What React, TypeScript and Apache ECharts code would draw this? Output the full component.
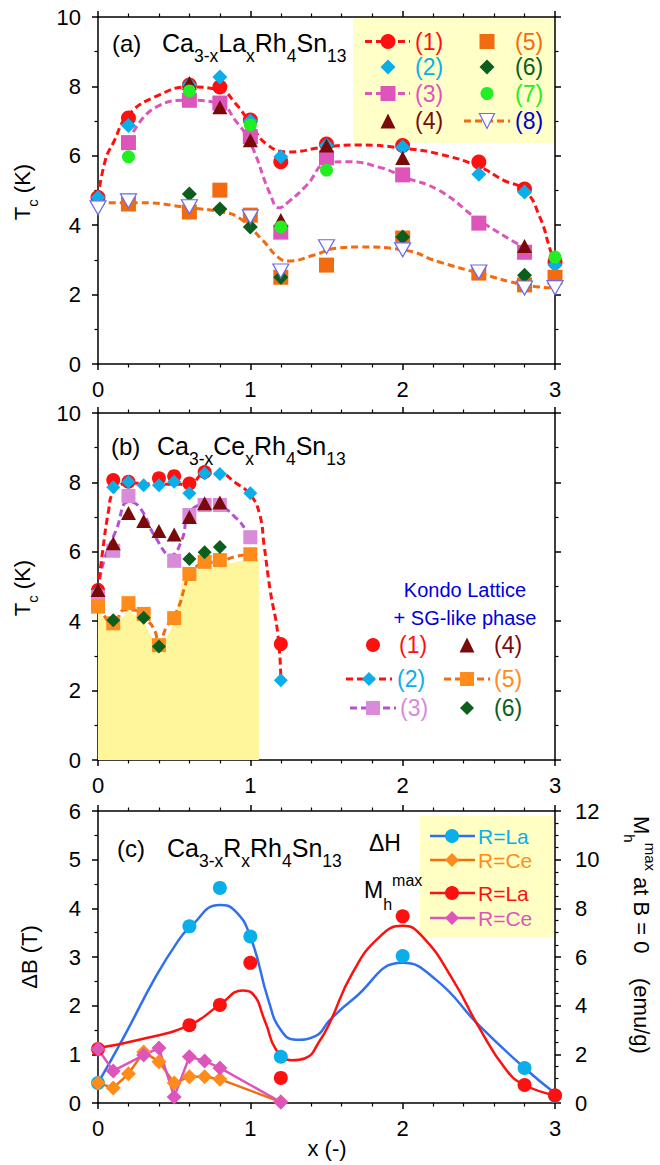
import React, { useEffect, useRef } from "react";
import * as echarts from "echarts";

const FONT = "'Liberation Sans', Arial, Helvetica, sans-serif";

// ---------------- Panel (a): Ca3-xLaxRh4Sn13 ----------------
const A1_X = [0, 0.2, 0.6, 0.8, 1.0, 1.2, 1.5, 2.0, 2.5, 2.8, 3.0];
const A1_T = [4.8, 7.09, 8.04, 7.98, 7.03, 5.83, 6.34, 6.3, 5.82, 5.04, 2.94];
const A2_X = [0, 0.2, 0.6, 0.8, 1.0, 1.2, 1.5, 2.0, 2.5, 2.8, 3.0];
const A2_T = [4.8, 6.87, 8.05, 8.27, 7.0, 5.97, 6.3, 6.25, 5.47, 4.96, 2.85];
const A3_X = [0.2, 0.6, 0.8, 1.0, 1.2, 1.5, 2.0, 2.5, 2.8];
const A3_T = [6.38, 7.6, 7.52, 6.55, 3.8, 5.94, 5.45, 4.06, 3.22];
const A4_X = [0.6, 0.8, 1.0, 1.2, 1.5, 2.0, 2.8];
const A4_T = [8.1, 7.4, 6.45, 4.15, 6.3, 5.94, 3.4];
const A5_X = [0.2, 0.6, 0.8, 1.0, 1.2, 1.5, 2.0, 2.5, 2.8, 3.0];
const A5_T = [4.61, 4.38, 5.01, 4.29, 2.5, 2.85, 3.63, 2.62, 2.28, 2.5];
const A6_X = [0.6, 0.8, 1.0, 1.2, 2.0, 2.8];
const A6_T = [4.9, 4.47, 3.95, 2.5, 3.66, 2.56];
const A7_X = [0.2, 0.6, 1.0, 1.2, 1.5, 3.0];
const A7_T = [5.97, 7.87, 6.89, 3.95, 5.59, 3.08];
const A8_X = [0, 0.2, 0.6, 1.0, 1.2, 1.5, 2.0, 2.5, 2.8, 3.0];
const A8_T = [4.5, 4.7, 4.53, 4.24, 2.68, 3.38, 3.29, 2.65, 2.19, 2.2];

// guide curves
const GA1_X = [0, 0.05, 0.1, 0.2, 0.4, 0.6, 0.8, 0.9, 1.0, 1.1, 1.25, 1.5, 1.72, 2.0, 2.24, 2.5, 2.66, 2.8, 2.9, 2.97, 3.0];
const GA1_T = [4.8, 5.9, 6.37, 7.18, 7.75, 7.98, 7.9, 7.52, 6.94, 6.36, 6.11, 6.26, 6.31, 6.22, 6.05, 5.69, 5.3, 5.01, 4.24, 3.28, 2.95];
const GA3_X = [0.2, 0.38, 0.6, 0.8, 0.9, 1.0, 1.13, 1.19, 1.25, 1.37, 1.5, 1.63, 1.87, 2.0, 2.24, 2.5, 2.8];
const GA3_T = [6.4, 7.4, 7.6, 7.5, 7.03, 6.37, 4.9, 4.5, 4.67, 5.15, 5.78, 5.83, 5.64, 5.4, 5.0, 4.15, 3.35];
const GA8_X = [0, 0.08, 0.28, 0.6, 0.8, 0.93, 1.08, 1.19, 1.25, 1.42, 1.57, 1.72, 2.0, 2.24, 2.5, 2.8, 3.0];
const GA8_T = [4.58, 4.65, 4.65, 4.5, 4.39, 4.2, 3.57, 3.05, 2.97, 3.14, 3.34, 3.37, 3.29, 2.94, 2.62, 2.28, 2.19];

// ---------------- Panel (b): Ca3-xCexRh4Sn13 ----------------
const B1_X = [0, 0.1, 0.2, 0.4, 0.5, 0.6, 0.7, 1.2];
const B1_T = [4.9, 8.07, 8.02, 8.12, 8.18, 7.97, 8.3, 3.34];
const B2_X = [0, 0.1, 0.2, 0.3, 0.4, 0.5, 0.6, 0.7, 0.8, 1.0, 1.2];
const B2_T = [4.85, 7.86, 8.02, 7.92, 7.92, 8.02, 7.69, 8.26, 8.24, 7.69, 2.3];
const B3_X = [0, 0.1, 0.2, 0.5, 0.6, 0.7, 0.8, 1.0];
const B3_T = [4.7, 6.03, 7.61, 5.74, 7.06, 7.35, 7.35, 6.42];
const B4_X = [0, 0.1, 0.2, 0.3, 0.4, 0.5, 0.6, 0.7, 0.8];
const B4_T = [4.9, 6.25, 7.12, 6.89, 6.6, 6.5, 7.0, 7.4, 7.42];
const B5_X = [0, 0.1, 0.2, 0.3, 0.4, 0.5, 0.6, 0.7, 0.8, 1.0];
const B5_T = [4.42, 3.94, 4.52, 4.21, 3.31, 4.09, 5.36, 5.71, 5.76, 5.93];
const B6_X = [0.1, 0.3, 0.4, 0.6, 0.7, 0.8];
const B6_T = [4.03, 4.1, 3.27, 5.79, 5.99, 6.14];

const GB2_X = [0, 0.03, 0.07, 0.1, 0.2, 0.4, 0.6, 0.7, 0.8, 0.9, 1.0, 1.06, 1.09, 1.13, 1.18, 1.2];
const GB2_T = [4.9, 6.0, 7.2, 7.7, 7.98, 7.95, 7.95, 8.25, 8.25, 8.0, 7.64, 7.1, 6.2, 4.9, 3.65, 2.4];
const GB3_X = [0, 0.04, 0.12, 0.2, 0.27, 0.38, 0.48, 0.55, 0.6, 0.7, 0.8, 0.9, 0.97, 1.0];
const GB3_T = [4.9, 5.76, 6.63, 7.44, 7.3, 6.4, 5.9, 6.34, 7.12, 7.35, 7.3, 7.0, 6.63, 6.34];
const GB5_X = [0, 0.05, 0.1, 0.17, 0.23, 0.32, 0.37, 0.4, 0.45, 0.52, 0.57, 0.6, 0.7, 0.8, 0.9, 1.0];
const GB5_T = [4.42, 4.1, 3.83, 4.32, 4.32, 4.03, 3.75, 3.37, 3.84, 4.32, 4.99, 5.38, 5.67, 5.72, 5.86, 5.93];
const FILL_X = [0, 0.1, 0.2, 0.3, 0.4, 0.5, 0.55, 0.6, 0.8, 1.0, 1.056];
const FILL_T = [4.27, 3.75, 4.32, 4.0, 3.11, 3.95, 5.1, 5.4, 5.6, 5.8, 5.8];

// ---------------- Panel (c): Ca3-xRxRh4Sn13 ----------------
const C_LA_X = [0, 0.6, 0.8, 1.0, 1.2, 2.0, 2.8, 3.0];
const C_LA_DH = [0.41, 3.63, 4.42, 3.42, 0.95, 3.02, 0.72, 0.15];
const C_LA_M = [2.22, 3.2, 4.03, 5.76, 1.03, 7.67, 0.74, 0.32];
const C_CE_X = [0, 0.1, 0.2, 0.3, 0.4, 0.5, 0.6, 0.7, 0.8, 1.2];
const C_CE_DH = [0.41, 0.31, 0.6, 1.05, 0.85, 0.41, 0.54, 0.54, 0.49, 0.02];
const C_CEM_X = [0, 0.1, 0.3, 0.4, 0.5, 0.6, 0.7, 0.8, 1.2];
const C_CE_M = [2.22, 1.32, 1.97, 2.26, 0.25, 1.9, 1.73, 1.44, 0.04];

const FIT_DH_X = [0, 0.17, 0.38, 0.53, 0.6, 0.8, 0.9, 1.0, 1.12, 1.2, 1.3, 1.43, 1.52, 1.67, 2.0, 2.22, 2.5, 2.8, 3.0];
const FIT_DH = [0.41, 1.36, 2.6, 3.35, 3.6, 4.07, 3.95, 3.42, 2.1, 1.5, 1.3, 1.38, 1.7, 2.12, 2.88, 2.53, 1.6, 0.72, 0.2];
const FIT_M_X = [0, 0.27, 0.6, 0.8, 0.95, 1.01, 1.1, 1.17, 1.27, 1.36, 1.46, 1.52, 1.67, 1.85, 2.0, 2.13, 2.33, 2.5, 2.68, 2.8, 3.0];
const FIT_M = [2.26, 2.6, 3.2, 4.04, 4.62, 4.52, 3.3, 2.18, 1.76, 1.84, 2.6, 3.28, 5.34, 6.84, 7.28, 6.84, 5.06, 3.12, 1.36, 0.74, 0.32];

// tick labels
const X_TICKS = ["0", "1", "2", "3"];

const pairs = (xs: number[], ys: number[]) => xs.map((x, i) => [x, ys[i]]);

// colours
const RED = "#ff1010";
const CYAN = "#0aaee8";
const PINK = "#dd55bb";
const DARKRED = "#7a0a0a";
const ORANGE = "#f26b10";
const DKGREEN = "#0b5e1b";
const GREEN = "#22ee22";
const NAVY = "#0000cc";
const LAV = "#d98ad9";
const PURPLE = "#b450d8";
const LORANGE = "#ff8c1a";
const BLUELINE = "#2f6ff0";

const GRIDS = [
  { left: 98, top: 17, width: 457, height: 347 },
  { left: 98, top: 413, width: 457, height: 347 },
  { left: 98, top: 811, width: 457, height: 292 },
];

const TICK_FS = 22;

function xAx(gi: number, top: boolean) {
  return {
    type: "value",
    gridIndex: gi,
    position: top ? "top" : "bottom",
    min: 0,
    max: 3,
    interval: 1,
    axisLine: { show: true, onZero: false, lineStyle: { color: "#000", width: 1.5 } },
    axisTick: { show: true, inside: false, length: 6, lineStyle: { color: "#000", width: 1.5 } },
    minorTick: { show: true, splitNumber: 5, length: 3.5, lineStyle: { color: "#000", width: 1.2 } },
    axisLabel: {
      show: !top,
      margin: 14,
      fontSize: TICK_FS,
      fontFamily: FONT,
      color: "#000",
      formatter: (v: number) => X_TICKS[Math.round(v)] ?? "",
    },
    splitLine: { show: false },
    minorSplitLine: { show: false },
  };
}

function yAx(gi: number, right: boolean, max: number, interval: number, split: number, label: boolean) {
  return {
    type: "value",
    gridIndex: gi,
    position: right ? "right" : "left",
    min: 0,
    max,
    interval,
    axisLine: { show: true, onZero: false, lineStyle: { color: "#000", width: 1.5 } },
    axisTick: { show: true, inside: false, length: 6, lineStyle: { color: "#000", width: 1.5 } },
    minorTick: { show: true, splitNumber: split, length: 3.5, lineStyle: { color: "#000", width: 1.2 } },
    axisLabel: { show: label, margin: right ? 20 : 17, fontSize: TICK_FS, fontFamily: FONT, color: "#000" },
    splitLine: { show: false },
    minorSplitLine: { show: false },
  };
}

function guide(xi: number, yi: number, xs: number[], ys: number[], color: string, z = 2) {
  return {
    type: "line",
    xAxisIndex: xi,
    yAxisIndex: yi,
    data: pairs(xs, ys),
    smooth: 0.5,
    showSymbol: false,
    symbol: "none",
    silent: true,
    z,
    lineStyle: { color, width: 3, type: [7, 4] },
  };
}

function pts(xi: number, yi: number, xs: number[], ys: number[], symbol: string, size: any, color: string, extra: any = {}) {
  return {
    type: "scatter",
    xAxisIndex: xi,
    yAxisIndex: yi,
    data: pairs(xs, ys),
    symbol,
    symbolSize: size,
    z: 3,
    itemStyle: { color, opacity: 1, ...(extra.itemStyle || {}) },
    symbolRotate: extra.rotate || 0,
  };
}

// ---- graphic helpers ----
const circ = (cx: number, cy: number, r: number, fill: string) => ({
  type: "circle", z: 20, shape: { cx, cy, r }, style: { fill },
});
const sq = (cx: number, cy: number, s: number, fill: string) => ({
  type: "rect", z: 20, shape: { x: cx - s / 2, y: cy - s / 2, width: s, height: s }, style: { fill },
});
const dia = (cx: number, cy: number, s: number, fill: string) => ({
  type: "polygon", z: 20,
  shape: { points: [[cx, cy - s / 2], [cx + s / 2, cy], [cx, cy + s / 2], [cx - s / 2, cy]] },
  style: { fill },
});
const triUp = (cx: number, cy: number, s: number, fill: string) => ({
  type: "polygon", z: 20,
  shape: { points: [[cx, cy - s / 2], [cx + s / 2, cy + s / 2], [cx - s / 2, cy + s / 2]] },
  style: { fill },
});
const triDown = (cx: number, cy: number, s: number) => ({
  type: "polygon", z: 21,
  shape: { points: [[cx - s / 2, cy - s / 2], [cx + s / 2, cy - s / 2], [cx, cy + s / 2]] },
  style: { fill: "#fff", stroke: "#6a6aee", lineWidth: 1.2 },
});
const dline = (x1: number, x2: number, y: number, stroke: string, dashed = true) => ({
  type: "line", z: 19, shape: { x1, y1: y, x2, y2: y },
  style: { stroke, lineWidth: dashed ? 3 : 2.5, lineDash: dashed ? [7, 4] : null },
});
const txt = (x: number, y: number, text: string, color: string, size: number, align = "left") => ({
  type: "text", z: 20, x, y,
  style: { text, fill: color, fontSize: size, fontFamily: FONT, textAlign: align, textVerticalAlign: "middle" },
});
const rich = (size: number, sub: number, color: string, down: number, up: number) => ({
  n: { fontSize: size, fontFamily: FONT, fill: color },
  s: { fontSize: sub, fontFamily: FONT, fill: color, padding: [down * 2, 0, 0, 0] },
  p: { fontSize: sub, fontFamily: FONT, fill: color, padding: [0, 0, up * 2, 0] },
});
const rtxt = (
  x: number, y: number, text: string, size: number, sub: number, down: number, up: number,
  align = "left", rotation = 0, color = "#000"
) => ({
  type: "text", z: 20, x, y, rotation,
  style: {
    text, fill: color, fontSize: size, fontFamily: FONT, textAlign: align, textVerticalAlign: "middle",
    rich: rich(size, sub, color, down, up),
  },
});

export default function App() {
  const ref = useRef<HTMLDivElement>(null);
  useEffect(() => {
    if (!ref.current) return;
    const chart = echarts.init(ref.current, undefined, { renderer: "svg" });

    const series: any[] = [
      // (a)
      guide(0, 0, GA8_X, GA8_T, ORANGE),
      guide(0, 0, GA3_X, GA3_T, PINK),
      guide(0, 0, GA1_X, GA1_T, RED),
      pts(0, 0, A1_X, A1_T, "circle", 15, RED),
      pts(0, 0, A2_X, A2_T, "diamond", 15, CYAN),
      pts(0, 0, A3_X, A3_T, "rect", 15, PINK),
      pts(0, 0, A4_X, A4_T, "triangle", [15, 14], DARKRED),
      pts(0, 0, A5_X, A5_T, "rect", 15, ORANGE),
      pts(0, 0, A6_X, A6_T, "diamond", 15, DKGREEN),
      pts(0, 0, A7_X, A7_T, "circle", 13, GREEN),
      pts(0, 0, A8_X, A8_T, "triangle", [16, 14], "#ffffff", {
        rotate: 180,
        itemStyle: { borderColor: "#6a6aee", borderWidth: 1.2 },
      }),
      // (b)
      {
        type: "line",
        xAxisIndex: 2,
        yAxisIndex: 2,
        data: pairs(FILL_X, FILL_T),
        showSymbol: false,
        symbol: "none",
        silent: true,
        z: 1,
        lineStyle: { width: 0, opacity: 0 },
        areaStyle: { color: "#fff59a", opacity: 1 },
      },
      guide(2, 2, GB5_X, GB5_T, ORANGE),
      guide(2, 2, GB3_X, GB3_T, PURPLE),
      guide(2, 2, GB2_X, GB2_T, RED),
      pts(2, 2, B1_X, B1_T, "circle", 14, RED),
      pts(2, 2, B2_X, B2_T, "diamond", 14, CYAN),
      pts(2, 2, B3_X, B3_T, "rect", 14, LAV),
      pts(2, 2, B4_X, B4_T, "triangle", [15, 14], DARKRED),
      pts(2, 2, B5_X, B5_T, "rect", 14, LORANGE),
      pts(2, 2, B6_X, B6_T, "diamond", 14, DKGREEN),
      // (c)
      {
        type: "line", xAxisIndex: 4, yAxisIndex: 4, data: pairs(FIT_DH_X, FIT_DH),
        smooth: 0.5, showSymbol: false, symbol: "none", silent: true, z: 2,
        lineStyle: { color: BLUELINE, width: 2.5 },
      },
      {
        type: "line", xAxisIndex: 4, yAxisIndex: 5, data: pairs(FIT_M_X, FIT_M),
        smooth: 0.5, showSymbol: false, symbol: "none", silent: true, z: 2,
        lineStyle: { color: RED, width: 2.5 },
      },
      pts(4, 4, C_LA_X, C_LA_DH, "circle", 14, CYAN),
      pts(4, 5, C_LA_X, C_LA_M, "circle", 14, RED),
      {
        type: "line", xAxisIndex: 4, yAxisIndex: 4, data: pairs(C_CE_X, C_CE_DH),
        symbol: "diamond", symbolSize: 15, showSymbol: true, z: 3,
        itemStyle: { color: LORANGE }, lineStyle: { color: "#f07010", width: 2.5 },
      },
      {
        type: "line", xAxisIndex: 4, yAxisIndex: 5, data: pairs(C_CEM_X, C_CE_M),
        symbol: "diamond", symbolSize: 15, showSymbol: true, z: 3,
        itemStyle: { color: PINK }, lineStyle: { color: PINK, width: 2.5 },
      },
    ];

    const LFS = 23;
    const g: any[] = [];
    // legend (a)
    g.push({ type: "rect", z: 0, shape: { x: 353, y: 18, width: 202, height: 125 }, style: { fill: "#ffffc8" } });
    const ra = [41.5, 67, 93.5, 121];
    g.push(dline(365, 410, ra[0], RED), circ(388, ra[0], 7.5, RED), txt(415, ra[0], "(1)", RED, LFS));
    g.push(dia(388, ra[1], 15, CYAN), txt(415, ra[1], "(2)", CYAN, LFS));
    g.push(dline(365, 410, ra[2], PINK), sq(388, ra[2], 15, PINK), txt(415, ra[2], "(3)", PINK, LFS));
    g.push(triUp(388, ra[3], 15, DARKRED), txt(415, ra[3], "(4)", DARKRED, LFS));
    g.push(sq(487, ra[0], 15, ORANGE), txt(515, ra[0], "(5)", ORANGE, LFS));
    g.push(dia(487, ra[1], 15, DKGREEN), txt(515, ra[1], "(6)", DKGREEN, LFS));
    g.push(circ(487, ra[2], 6.5, GREEN), txt(515, ra[2], "(7)", GREEN, LFS));
    g.push(dline(464, 510, ra[3], ORANGE), triDown(487, ra[3], 15), txt(515, ra[3], "(8)", NAVY, LFS));

    // legend (b)
    const rb = [645, 679, 708];
    g.push(circ(373, rb[0], 7, RED), txt(399, rb[0], "(1)", RED, LFS));
    g.push(dline(346, 392, rb[1], RED), dia(369, rb[1], 14, CYAN), txt(397, rb[1], "(2)", CYAN, LFS));
    g.push(dline(350, 396, rb[2], PURPLE), sq(373, rb[2], 14, LAV), txt(400, rb[2], "(3)", LAV, LFS));
    g.push(triUp(467, rb[0], 15, DARKRED), txt(494, rb[0], "(4)", DARKRED, LFS));
    g.push(dline(444, 490, rb[1], ORANGE), sq(467, rb[1], 14, LORANGE), txt(494, rb[1], "(5)", LORANGE, LFS));
    g.push(dia(467, rb[2], 14, DKGREEN), txt(494, rb[2], "(6)", DKGREEN, LFS));
    g.push(txt(465, 590, "Kondo Lattice", "#0000dd", 20, "center"));
    g.push(txt(465, 618, "+ SG-like phase", "#0000dd", 20, "center"));

    // legend (c)
    const CFS = 21;
    g.push({ type: "rect", z: 0, shape: { x: 420, y: 816, width: 134, height: 122 }, style: { fill: "#ffffc4" } });
    const rc = [836, 860, 893, 918];
    g.push(dline(430, 475, rc[0], BLUELINE, false), circ(452, rc[0], 7, CYAN), txt(478, rc[0], "R=La", CYAN, CFS));
    g.push(dline(430, 475, rc[1], "#f07010", false), dia(452, rc[1], 14, LORANGE), txt(478, rc[1], "R=Ce", LORANGE, CFS));
    g.push(dline(430, 475, rc[2], RED, false), circ(452, rc[2], 7, RED), txt(478, rc[2], "R=La", RED, CFS));
    g.push(dline(430, 475, rc[3], PINK, false), dia(452, rc[3], 14, PINK), txt(478, rc[3], "R=Ce", PINK, CFS));
    g.push(txt(369, 843, "ΔH", "#000", 23));
    g.push(rtxt(364, 890, "{n|M}{s|h}{p|max}", 23, 16, 14, 10));

    // panel titles
    g.push(txt(112, 43, "(a)", "#000", 24));
    g.push(rtxt(162, 43, "{n|Ca}{s|3-x}{n|La}{s|x}{n|Rh}{s|4}{n|Sn}{s|13}", 25, 17.5, 13, 10));
    g.push(txt(111, 446, "(b)", "#000", 24));
    g.push(rtxt(157, 446, "{n|Ca}{s|3-x}{n|Ce}{s|x}{n|Rh}{s|4}{n|Sn}{s|13}", 25, 17.5, 13, 10));
    g.push(txt(117, 848, "(c)", "#000", 24));
    g.push(rtxt(167, 848, "{n|Ca}{s|3-x}{n|R}{s|x}{n|Rh}{s|4}{n|Sn}{s|13}", 25, 17.5, 13, 10));

    // axis titles
    g.push(rtxt(22, 192, "{n|T}{s|c}{n| (K)}", 22, 15, 10, 8, "center", Math.PI / 2));
    g.push(rtxt(22, 588, "{n|T}{s|c}{n| (K)}", 22, 15, 10, 8, "center", Math.PI / 2));
    g.push({
      type: "text", z: 20, x: 29, y: 957, rotation: Math.PI / 2,
      style: { text: "ΔB (T)", fill: "#000", fontSize: 22, fontFamily: FONT, textAlign: "center", textVerticalAlign: "middle" },
    });
    g.push(rtxt(641, 816, "{n|M}{s|h}{p|max}{n| at B = 0    (emu/g)}", 22, 15, 12, 9, "left", -Math.PI / 2));
    g.push(txt(327, 1148, "x (-)", "#000", 22, "center"));

    const option: any = {
      animation: false,
      grid: GRIDS.map((gr) => ({ ...gr, containLabel: false, outerBoundsMode: "none" })),
      xAxis: [xAx(0, false), xAx(0, true), xAx(1, false), xAx(1, true), xAx(2, false), xAx(2, true)],
      yAxis: [
        yAx(0, false, 10, 2, 2, true),
        yAx(0, true, 10, 2, 2, false),
        yAx(1, false, 10, 2, 2, true),
        yAx(1, true, 10, 2, 2, false),
        yAx(2, false, 6, 1, 2, true),
        yAx(2, true, 12, 2, 4, true),
      ],
      series,
      graphic: { elements: g },
    };
    chart.setOption(option);
    return () => chart.dispose();
  }, []);

  return (
    <div
      ref={ref}
      style={{ position: "absolute", left: 0, top: 0, width: 660, height: 1165, background: "#fff" }}
    />
  );
}
